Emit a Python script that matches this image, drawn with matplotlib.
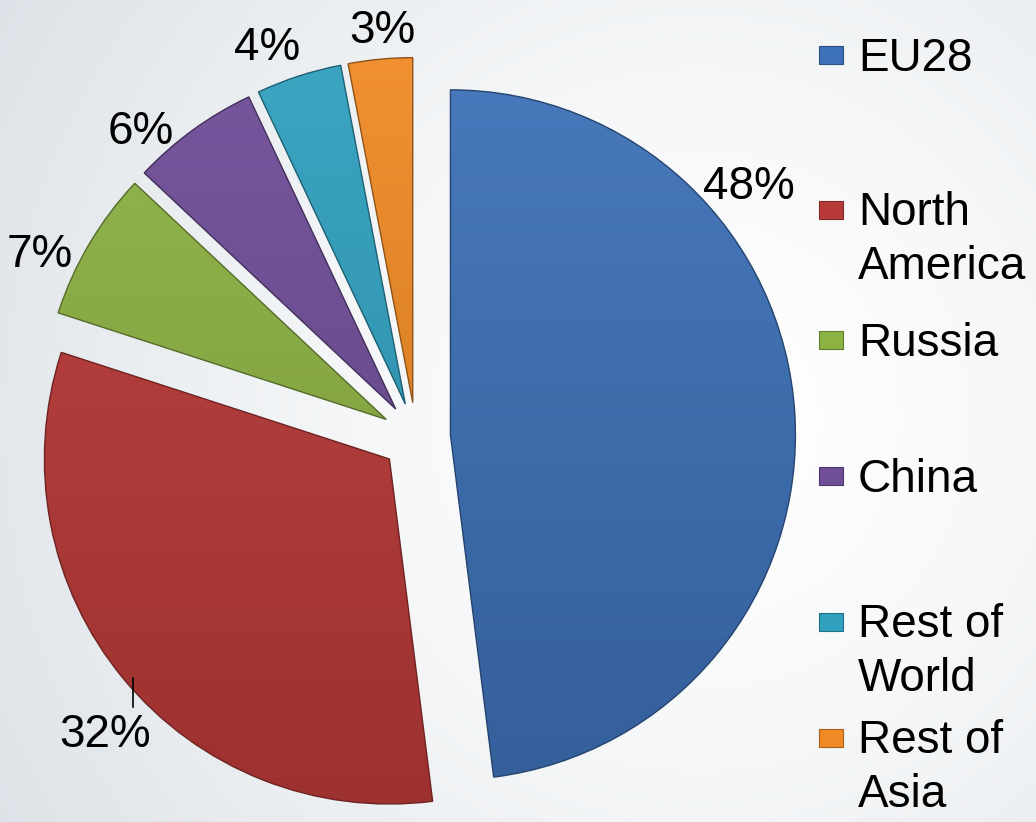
import numpy as np
import matplotlib.pyplot as plt
from matplotlib.colors import to_rgb
from matplotlib.patches import Rectangle

regions = ["EU28", "North\nAmerica", "Russia", "China", "Rest of\nWorld", "Rest of\nAsia"]
shares = [48, 32, 7, 6, 4, 3]
colors = ["#3d71b7", "#b83a38", "#8db244", "#6f4e98", "#31a0be", "#ef8a26"]

W, H = 1036, 822
CX, CY, R = 416, 437, 345   # pie centre and radius in pixels


def px(x, y):
    # pixel position (from top-left) -> data coords of the pie axes
    return (x - CX) / R, (CY - y) / R


def shade(c, f):
    c = np.array(to_rgb(c))
    if f > 0:
        return c + (1 - c) * f
    return c * (1 + f)


plt.rcParams['font.family'] = ['Liberation Sans', 'DejaVu Sans']
fig = plt.figure(figsize=(W / 100, H / 100), dpi=100)
ax = fig.add_axes([0, 0, 1, 1])
x0, y0 = px(0, H)
x1, y1 = px(W, 0)

# soft radial background
yy, xx = np.mgrid[0:H, 0:W]
t = np.clip(np.hypot(xx - 700, yy - 420) / 820, 0, 1) ** 1.4
edge = np.array(to_rgb("#dce2e7"))
bg = (1 - t)[..., None] * np.ones(3) + t[..., None] * edge
ax.imshow(bg, extent=(x0, x1, y0, y1), origin='upper', aspect='auto', zorder=0)

wedges, _ = ax.pie(shares, colors=colors, startangle=90, counterclock=False,
                   explode=[0.1] * len(shares), radius=1,
                   wedgeprops=dict(linewidth=1.0))

grad = np.linspace(0, 1, 256)[:, None]
for w, c in zip(wedges, colors):
    top, bot = shade(c, 0.05), shade(c, -0.15)
    img = (1 - grad)[..., None] * top + grad[..., None] * bot
    img = np.repeat(img, 2, axis=1)
    cx, cy = w.center
    im = ax.imshow(img, extent=(cx - 1, cx + 1, cy - 1, cy + 1), origin='upper',
                   aspect='auto', zorder=1.5)
    im.set_clip_path(w)
    w.set_facecolor('none')
    w.set_edgecolor(shade(c, -0.4))
    w.set_zorder(2)

# percentage labels (Excel best-fit placement)
label_px = [(749, 187), (105, 735), (40, 255), (141, 132), (267, 48), (382, 31)]
for s, (lx, ly) in zip(shares, label_px):
    ax.text(*px(lx, ly), f"{s}%", fontsize=33, ha='center', va='center', zorder=3)
lx0, ly0 = px(133, 678)
lx1, ly1 = px(133, 707)
ax.plot([lx0, lx1], [ly0, ly1], color='black', lw=1.2, zorder=3)

# legend
legend_y = [55, 210, 340, 476, 622, 738]
for name, c, y in zip(regions, colors, legend_y):
    ax.add_patch(Rectangle(px(819, y + 9), 24 / R, 18 / R, facecolor=c,
                           edgecolor=shade(c, -0.3), lw=0.8, zorder=3))
    extra = name.count("\n") * 53
    ax.text(*px(858, y + 16 + extra), name, fontsize=33, ha='left', va='baseline',
            linespacing=1.30, zorder=3)

ax.set_xlim(x0, x1)
ax.set_ylim(y0, y1)
ax.set_aspect('auto')
ax.axis('off')
fig.savefig("out.png", dpi=100)
